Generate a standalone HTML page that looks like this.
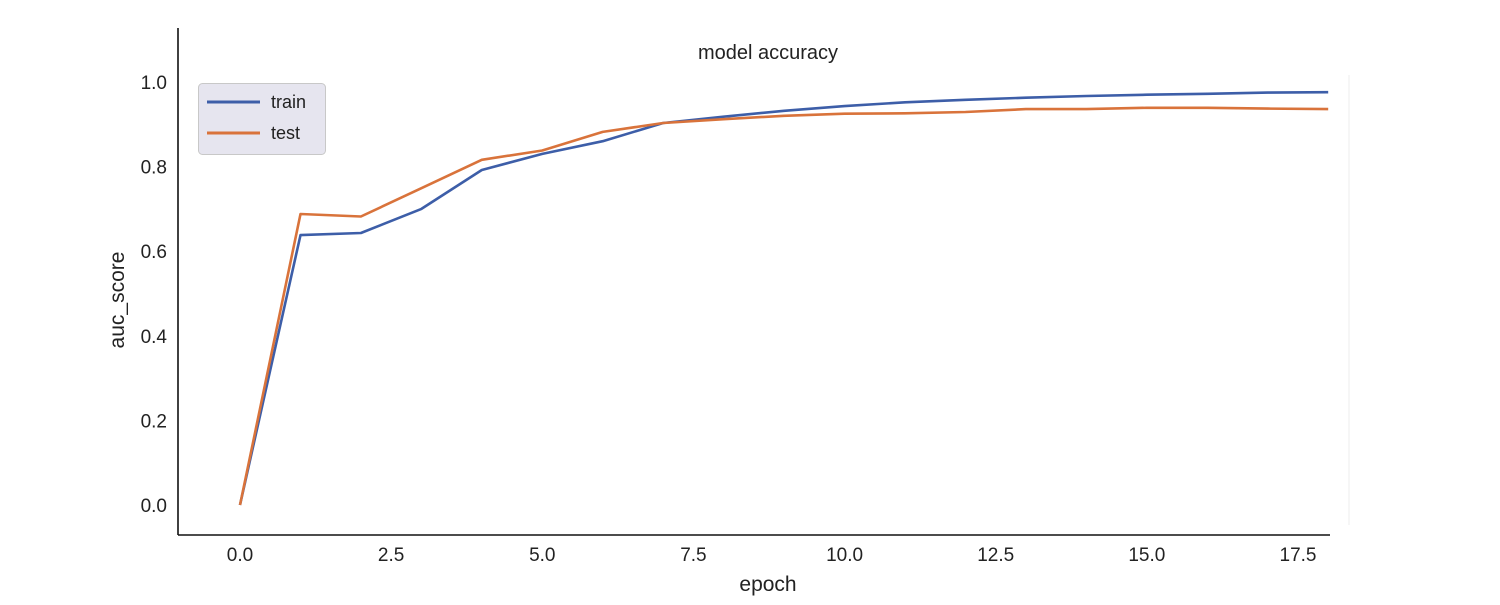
<!DOCTYPE html>
<html><head><meta charset="utf-8"><style>
body{margin:0;background:#fff;}
svg text{font-family:"Liberation Sans","DejaVu Sans",sans-serif;fill:#222;}
</style></head><body>
<svg id="chart" width="1500" height="600" xmlns="http://www.w3.org/2000/svg">
<line x1="1349" y1="75" x2="1349" y2="525" stroke="#eee" stroke-width="1"/>
<g id="axes"></g>
<g id="lines"></g>
<text x="768" y="59" font-size="20" text-anchor="middle">model accuracy</text>
<text x="768" y="591" font-size="21" text-anchor="middle">epoch</text>
<text x="124" y="300" font-size="21" text-anchor="middle" transform="rotate(-90 124 300)">auc_score</text>
<g>
<rect x="198.5" y="83.5" width="127" height="71" rx="4" fill="#e6e5ef" stroke="#c8c8c8"/>
<line x1="207" y1="102" x2="260" y2="102" stroke="#3d5ea8" stroke-width="3"/>
<text x="271" y="108" font-size="18">train</text>
<line x1="207" y1="133" x2="260" y2="133" stroke="#d9733b" stroke-width="3"/>
<text x="271" y="139" font-size="18">test</text>
</g>
</svg>
<script>
const epochs=[0,1,2,3,4,5,6,7,8,9,10,11,12,13,14,15,16,17,18];
const trainVals=[0,0.638,0.643,0.70,0.792,0.83,0.86,0.903,0.918,0.932,0.943,0.952,0.958,0.963,0.967,0.970,0.972,0.975,0.976];
const testVals=[0,0.688,0.682,0.749,0.816,0.838,0.882,0.903,0.912,0.920,0.925,0.926,0.929,0.936,0.936,0.939,0.939,0.937,0.936];
const xTicks=[0,2.5,5,7.5,10,12.5,15,17.5];
const yTicks=[0,0.2,0.4,0.6,0.8,1.0];
const NS="http://www.w3.org/2000/svg";
function xs(v){return 240+v*60.457;}
function ys(v){return 505-v*423;}
const axes=document.getElementById('axes');
function mk(tag,attrs,parent,text){const e=document.createElementNS(NS,tag);for(const k in attrs)e.setAttribute(k,attrs[k]);if(text!==undefined)e.textContent=text;parent.appendChild(e);return e;}
const ly=mk('line',{x1:178,y1:28,x2:178,y2:535,stroke:'#111','stroke-width':1.6},axes);


const lx=mk('line',{x1:178,y1:535,x2:1330,y2:535,stroke:'#111','stroke-width':1.6},axes);


xTicks.forEach(t=>{const e=mk('text',{x:xs(t),y:561,'font-size':19,'text-anchor':'middle'},axes,t.toFixed(1));

});
yTicks.forEach(t=>{const e=mk('text',{x:167,y:ys(t)+7,'font-size':19,'text-anchor':'end'},axes,t.toFixed(1));

});
const lines=document.getElementById('lines');
function draw(vals,color,name){const p=vals.map((v,i)=>(i?'L':'M')+xs(epochs[i]).toFixed(1)+','+ys(v).toFixed(1)).join(' ');
const e=mk('path',{d:p,fill:'none',stroke:color,'stroke-width':2.6,'stroke-linejoin':'round'},lines);

}
draw(trainVals,'#3d5ea8','train-line');
draw(testVals,'#d9733b','test-line');
</script>
</body></html>
